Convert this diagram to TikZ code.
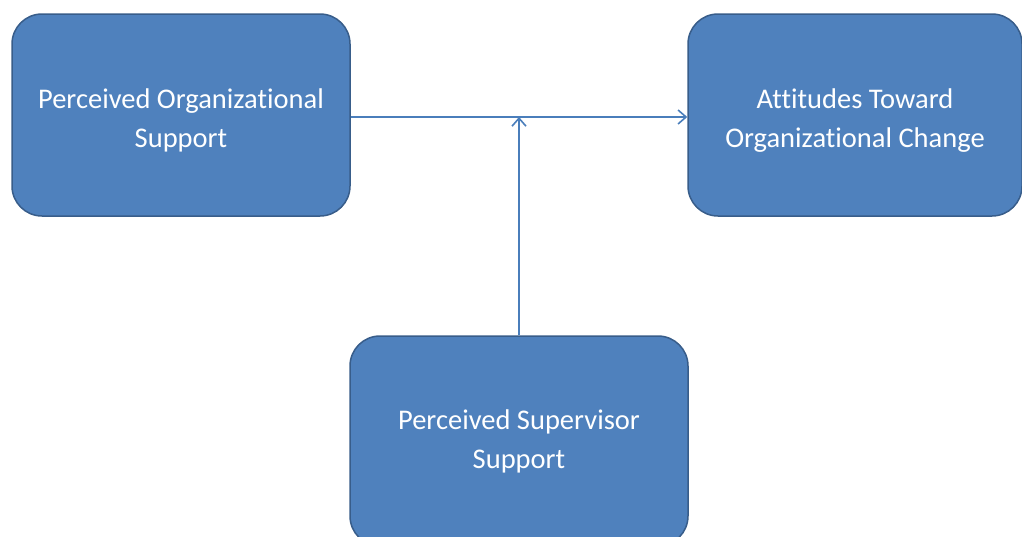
\documentclass[tikz,border=0pt]{standalone}
\usepackage{fontspec}
\setmainfont{Carlito}[Ligatures={NoCommon}]
\usetikzlibrary{arrows.meta}
\definecolor{boxfill}{HTML}{4F81BD}
\definecolor{boxline}{HTML}{385D8A}
\definecolor{conn}{HTML}{4A7EBB}
\newcommand{\topstrut}{\rule{0pt}{30pt}}
\tikzset{
  block/.style={draw=boxline, fill=boxfill, line width=1.5pt, rounded corners=30pt,
    text=white, align=center, font=\fontsize{28.5}{39}\selectfont, inner sep=0pt},
  link/.style={draw=conn, line width=1.6pt, -{Straight Barb[length=8pt,width=14pt,line width=1.6pt]}}
}
\begin{document}
\begin{tikzpicture}[x=1pt,y=-1pt]
\useasboundingbox (0,0) rectangle (1022,536);
\clip (0,0) rectangle (1022,536);
\fill[white] (0,0) rectangle (1022,536);
\node[block, minimum width=338pt, minimum height=202pt] (pos) at (181,115) {\topstrut Perceived Organizational\\Support};
\node[block, minimum width=334pt, minimum height=202pt] (atc) at (855,115) {\topstrut Attitudes Toward\\Organizational Change};
\node[block, minimum width=338pt, minimum height=210pt] (pss) at (519,441) {Perceived Supervisor\\Support};
\coordinate (mid) at (519,117);
\draw[link] (pos.east |- mid) -- (atc.west |- mid);
\draw[link] (pss.north) -- (mid);
\end{tikzpicture}
\end{document}
